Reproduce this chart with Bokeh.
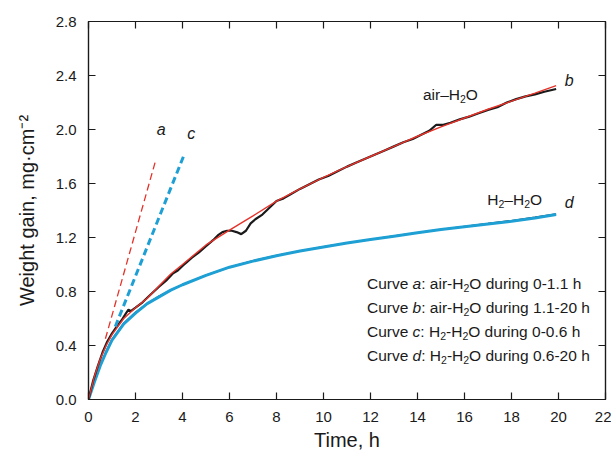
from bokeh.plotting import figure
from bokeh.models import (Range1d, FixedTicker, PrintfTickFormatter, LinearAxis, Label,
                          CustomLabelingPolicy)
from bokeh.embed import file_html
from bokeh.resources import INLINE

# ---------------- data ----------------
x_ticks = [0, 2, 4, 6, 8, 10, 12, 14, 16, 18, 20, 22]
y_ticks = [0.0, 0.4, 0.8, 1.2, 1.6, 2.0, 2.4, 2.8]

# raw air-H2O data (black)
air_t = [0, 0.2, 0.4, 0.6, 0.8, 1.0, 1.2, 1.4, 1.6, 1.7, 1.8, 2.0, 2.3, 2.6, 3.0, 3.3,
         3.6, 3.8, 4.1, 4.4, 4.7, 5.0, 5.3, 5.5, 5.7, 5.9, 6.1, 6.3, 6.5, 6.7, 6.9, 7.1,
         7.4, 7.7, 8.0, 8.3, 8.6, 9.0, 9.4, 9.8, 10.2, 10.6, 11.0, 11.4, 11.8, 12.2, 12.6,
         13.0, 13.4, 13.8, 14.2, 14.5, 14.8, 15.1, 15.4, 15.8, 16.2, 16.6, 17.0, 17.4,
         17.8, 18.2, 18.6, 19.0, 19.4, 19.9]
air_w = [0, 0.14, 0.25, 0.35, 0.43, 0.49, 0.54, 0.585, 0.64, 0.665, 0.655, 0.68, 0.72,
         0.77, 0.835, 0.88, 0.935, 0.955, 1.005, 1.05, 1.09, 1.135, 1.18, 1.215, 1.24,
         1.25, 1.25, 1.24, 1.225, 1.25, 1.305, 1.335, 1.37, 1.42, 1.47, 1.49, 1.52, 1.56,
         1.595, 1.63, 1.655, 1.69, 1.725, 1.755, 1.785, 1.815, 1.845, 1.875, 1.905, 1.93,
         1.965, 1.99, 2.035, 2.035, 2.05, 2.075, 2.095, 2.12, 2.145, 2.165, 2.2, 2.225,
         2.245, 2.26, 2.28, 2.30]

# fitted curve b (red)
b_t = [0, 0.25, 0.5, 0.75, 1.0, 1.5, 2.0, 2.5, 3.0, 3.5, 4, 5, 6, 7, 8, 9, 10, 11, 12,
       13, 14, 15, 16, 17, 18, 19, 19.9]
b_w = [0, 0.17, 0.30, 0.40, 0.48, 0.60, 0.68, 0.75, 0.84, 0.93, 1.00, 1.145, 1.255, 1.36,
       1.47, 1.56, 1.645, 1.725, 1.80, 1.875, 1.95, 2.02, 2.085, 2.15, 2.21, 2.27, 2.325]

# raw H2-H2O data (black, under the blue fit)
h2_t = [0, 0.25, 0.5, 0.75, 1.0, 1.5, 2.0, 2.5, 3.0, 3.5, 4, 5, 6, 7, 8, 9, 10, 11, 12,
        13, 14, 15, 16, 17, 18, 19, 19.9]
h2_w = [0, 0.135, 0.255, 0.355, 0.445, 0.565, 0.645, 0.71, 0.765, 0.81, 0.85, 0.92, 0.98,
        1.028, 1.066, 1.10, 1.132, 1.16, 1.186, 1.212, 1.236, 1.26, 1.282, 1.303, 1.325,
        1.35, 1.375]

# fitted curve d (blue)
d_t = [0, 0.25, 0.5, 0.75, 1.0, 1.5, 2.0, 2.5, 3.0, 3.5, 4, 5, 6, 7, 8, 9, 10, 11, 12,
       13, 14, 15, 16, 17, 18, 19, 19.9]
d_w = [0, 0.13, 0.25, 0.35, 0.44, 0.56, 0.64, 0.71, 0.76, 0.81, 0.85, 0.92, 0.98, 1.025,
       1.065, 1.10, 1.13, 1.16, 1.185, 1.21, 1.235, 1.26, 1.28, 1.30, 1.32, 1.345, 1.37]

# linear initial-stage lines
a_t = [0.72, 2.84]
a_w = [0.45, 1.76]
c_t = [1.14, 4.04]
c_w = [0.54, 1.80]

legend_lines = [
    [("Curve ", "n"), ("a", "i"), (": air-H", "n"), ("2", "s"), ("O during 0-1.1 h", "n")],
    [("Curve ", "n"), ("b", "i"), (": air-H", "n"), ("2", "s"), ("O during 1.1-20 h", "n")],
    [("Curve ", "n"), ("c", "i"), (": H", "n"), ("2", "s"), ("-H", "n"), ("2", "s"),
     ("O during 0-0.6 h", "n")],
    [("Curve ", "n"), ("d", "i"), (": H", "n"), ("2", "s"), ("-H", "n"), ("2", "s"),
     ("O during 0.6-20 h", "n")],
]

FONT = "Liberation Sans"
INK = "#1a1a1a"
RED = "#e5332a"
BLUE = "#1ea0d4"

p = figure(width=611, height=459, x_range=Range1d(0, 22), y_range=Range1d(0, 2.8),
           output_backend="svg", toolbar_location=None,
           min_border_left=88, min_border_right=6, min_border_top=21, min_border_bottom=60)
p.xgrid.visible = False
p.ygrid.visible = False
p.outline_line_color = INK
p.outline_line_width = 1.2
p.background_fill_color = "white"
p.border_fill_color = "white"

p.xaxis.ticker = FixedTicker(ticks=x_ticks)
p.yaxis.ticker = FixedTicker(ticks=y_ticks)
p.yaxis.formatter = PrintfTickFormatter(format="%.1f")

for ax in [p.xaxis[0], p.yaxis[0]]:
    ax.major_tick_in = 7
    ax.major_tick_out = 0
    ax.minor_tick_in = 0
    ax.minor_tick_out = 0
    ax.axis_line_color = INK
    ax.axis_line_width = 1.2
    ax.major_tick_line_color = INK
    ax.major_tick_line_width = 1.2
    ax.major_label_text_font = FONT
    ax.major_label_text_font_size = "15px"
    ax.major_label_text_color = INK
    ax.major_label_standoff = 12
    ax.axis_label_text_font = FONT
    ax.axis_label_text_font_size = "20px"
    ax.axis_label_text_font_style = "normal"
    ax.axis_label_text_color = INK

p.xaxis.axis_label = "Time, h"
p.xaxis.axis_label_standoff = 4
p.yaxis.axis_label = "Weight gain, mg\u00b7cm\u207b\u00b2"
p.yaxis.axis_label_standoff = 15

no_labels = CustomLabelingPolicy(code="""
for (const i of Array.from(indices)) { indices.unset(i) }
return indices
""")

for side, tk in [("above", x_ticks), ("right", y_ticks)]:
    ax = LinearAxis(ticker=FixedTicker(ticks=tk), major_label_policy=no_labels)
    ax.major_tick_in = 7
    ax.major_tick_out = 0
    ax.minor_tick_in = 0
    ax.minor_tick_out = 0
    ax.axis_line_color = INK
    ax.axis_line_width = 1.2
    ax.major_tick_line_color = INK
    ax.major_tick_line_width = 1.2
    ax.major_label_text_font_size = "1px"
    ax.major_label_standoff = 0
    p.add_layout(ax, side)

# curves
p.line(h2_t, h2_w, line_color=INK, line_width=1.5)
p.line(d_t, d_w, line_color=BLUE, line_width=3)
p.line(air_t, air_w, line_color=INK, line_width=2.2)
p.line(b_t, b_w, line_color=RED, line_width=1.4)
p.line(a_t, a_w, line_color=RED, line_width=1.3, line_dash="7 4")
p.line(c_t, c_w, line_color=BLUE, line_width=3, line_dash="7 4")

# text helpers
WID = {" ": 278, ",": 278, "-": 333, ".": 278, ":": 278, "\u2013": 556, "C": 722,
       "H": 722, "O": 778, "a": 556, "b": 556, "c": 500, "d": 556, "e": 556, "g": 556,
       "h": 556, "i": 222, "n": 556, "r": 333, "u": 556, "v": 500}


def tw(s, size):
    return sum(WID.get(ch, 556) for ch in s) * size / 1000.0


def rich(x, y, runs, size, align="left"):
    total = 0.0
    for t, st in runs:
        total += tw(t, size * 0.68 if st == "s" else size)
    dx = 0.0 if align == "left" else -total / 2.0
    for t, st in runs:
        fs = size * 0.68 if st == "s" else size
        p.add_layout(Label(x=x, y=y, x_offset=dx, y_offset=(-size * 0.3 if st == "s" else 0),
                           text=t, text_font=FONT, text_font_size=f"{fs:.1f}px",
                           text_font_style=("italic" if st == "i" else "normal"),
                           text_color=INK, text_baseline="alphabetic", text_align="left"))
        dx += tw(t, fs)


# letters for curves
for txt, tx, wy in [("a", 3.09, 2.0), ("c", 4.37, 1.97), ("b", 20.46, 2.36), ("d", 20.46, 1.46)]:
    p.add_layout(Label(x=tx, y=wy, text=txt, text_font=FONT, text_font_size="16px",
                       text_font_style="italic", text_color=INK,
                       text_align="center", text_baseline="middle"))

rich(14.23, 2.26, [("air\u2013H", "n"), ("2", "s"), ("O", "n")], 15.5)
rich(16.97, 1.48, [("H", "n"), ("2", "s"), ("\u2013H", "n"), ("2", "s"), ("O", "n")], 15.5)

leg_y = [0.861, 0.684, 0.506, 0.328]
for ly, runs in zip(leg_y, legend_lines):
    rich(11.85, ly, runs, 15.5)

open("out.html", "w").write(file_html(p, INLINE))
